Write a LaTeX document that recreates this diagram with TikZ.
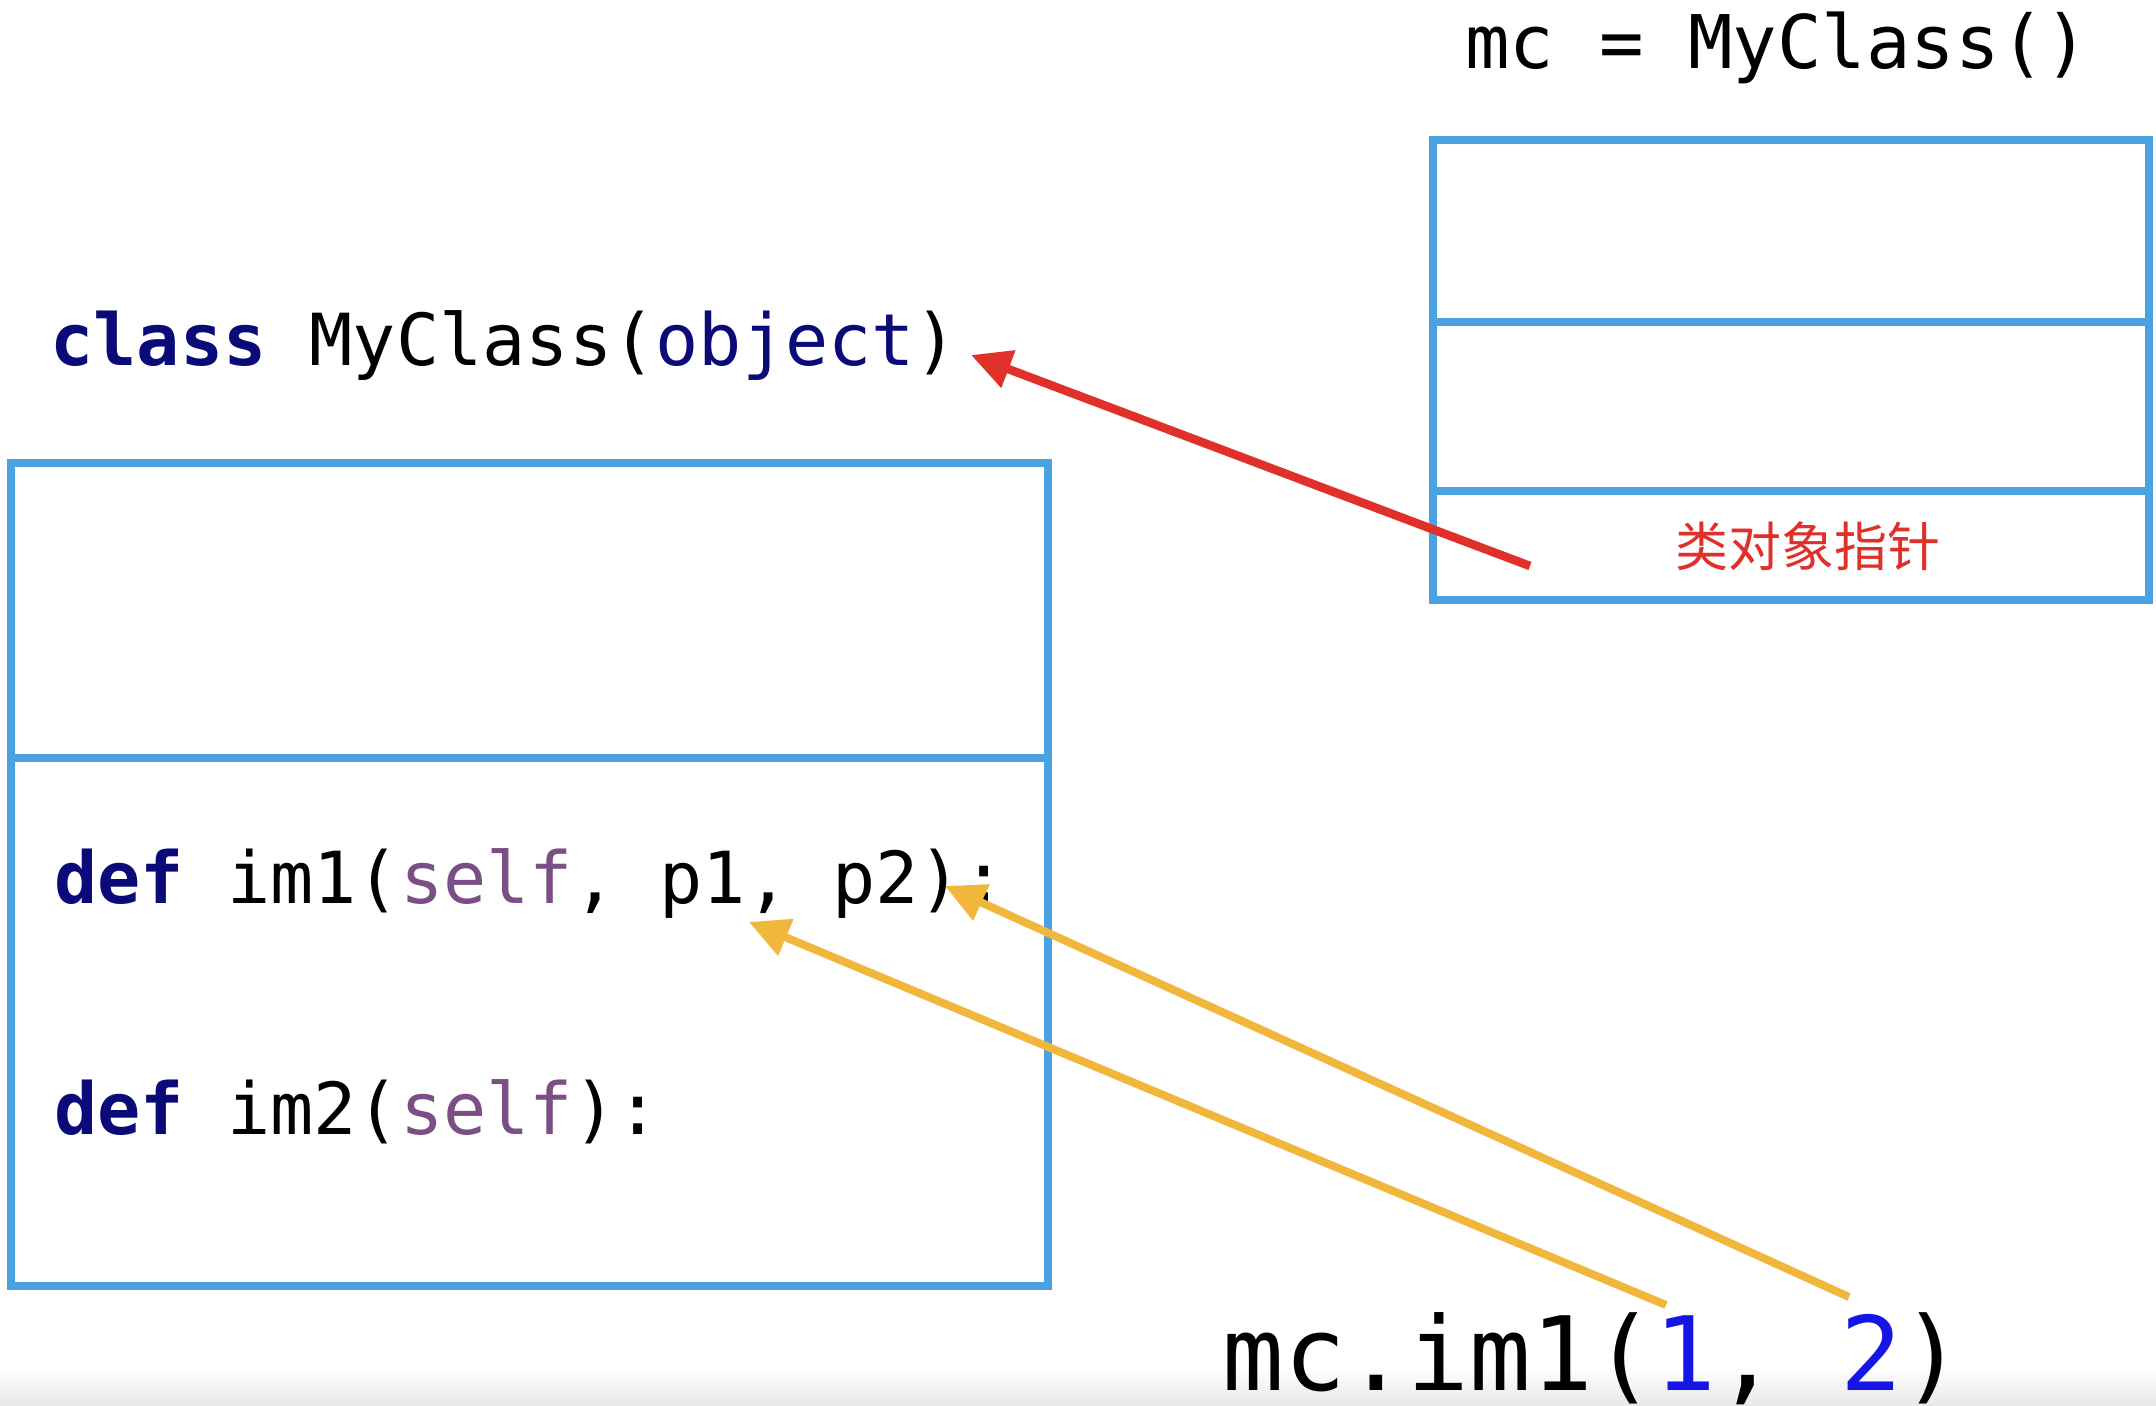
\documentclass[tikz,border=0pt]{standalone}
\usepackage{fontspec}
\setmonofont{DejaVu Sans Mono}
\newfontfamily\cjk{Noto Sans CJK SC}
\usetikzlibrary{arrows.meta}
\definecolor{boxblue}{HTML}{4AA3E0}
\definecolor{kwnavy}{HTML}{0A0A78}
\definecolor{selfpurple}{HTML}{7B4F85}
\definecolor{numblue}{HTML}{1515E6}
\definecolor{ptrred}{HTML}{E0302A}
\definecolor{argyellow}{HTML}{F0B73C}
\tikzset{
  memframe/.style={draw=boxblue, line width=4.2pt, line join=miter},
  codetext/.style={inner sep=0pt, anchor=base west, font=\ttfamily\fontsize{35.9}{40}\selectfont},
  bigcode/.style={inner sep=0pt, anchor=base west, font=\ttfamily\fontsize{51.3}{56}\selectfont},
  ptrarrow/.style={draw=ptrred, line width=4.3pt, -{Triangle[length=20pt,width=19pt]}, fill=ptrred},
  argarrow/.style={draw=argyellow, line width=4pt, -{Triangle[length=20pt,width=19pt]}, fill=argyellow},
}
\begin{document}
\begin{tikzpicture}[x=0.5pt,y=-0.5pt]
\useasboundingbox (0,0) rectangle (2156,1406);
\fill[white] (0,0) rectangle (2156,1406);
\shade[top color=white, bottom color=black!9] (0,1366) rectangle (2156,1406);

% right object box
\draw[memframe] (1433,140) rectangle (2149,600);
\draw[memframe] (1433,322) -- (2149,322);
\draw[memframe] (1433,491) -- (2149,491);
\node[inner sep=0pt, text=ptrred, font=\cjk\fontsize{26.5}{30}\selectfont] (ptr) at (1808,546) {类对象指针};

% left class box
\draw[memframe] (11,463) rectangle (1048,1286);
\draw[memframe] (11,758) -- (1048,758);

% texts
\node[codetext, font=\ttfamily\fontsize{37}{42}\selectfont] (inst) at (1465,69) {mc = MyClass()};
\node[codetext] (cls) at (50,366) {\textcolor{kwnavy}{\bfseries class} MyClass(\textcolor{kwnavy}{object})};
\node[codetext] (im1) at (54,903) {\textcolor{kwnavy}{\bfseries def} im1(\textcolor{selfpurple}{self}, p1, p2):};
\node[codetext] (im2) at (54,1134) {\textcolor{kwnavy}{\bfseries def} im2(\textcolor{selfpurple}{self}):};
\node[bigcode] (call) at (1222,1390) {mc.im1(\textcolor{numblue}{1}, \textcolor{numblue}{2})};

% arrow anchors
\coordinate (ptrtail) at (1530,566);
\coordinate (clstip) at (971,355);
\coordinate (onetail) at (1666,1305);
\coordinate (ponetip) at (749,922);
\coordinate (twotail) at (1849,1297);
\coordinate (ptwotip) at (945,886);

\draw[ptrarrow] (ptrtail) -- (clstip);
\draw[argarrow] (onetail) -- (ponetip);
\draw[argarrow] (twotail) -- (ptwotip);
\end{tikzpicture}
\end{document}
